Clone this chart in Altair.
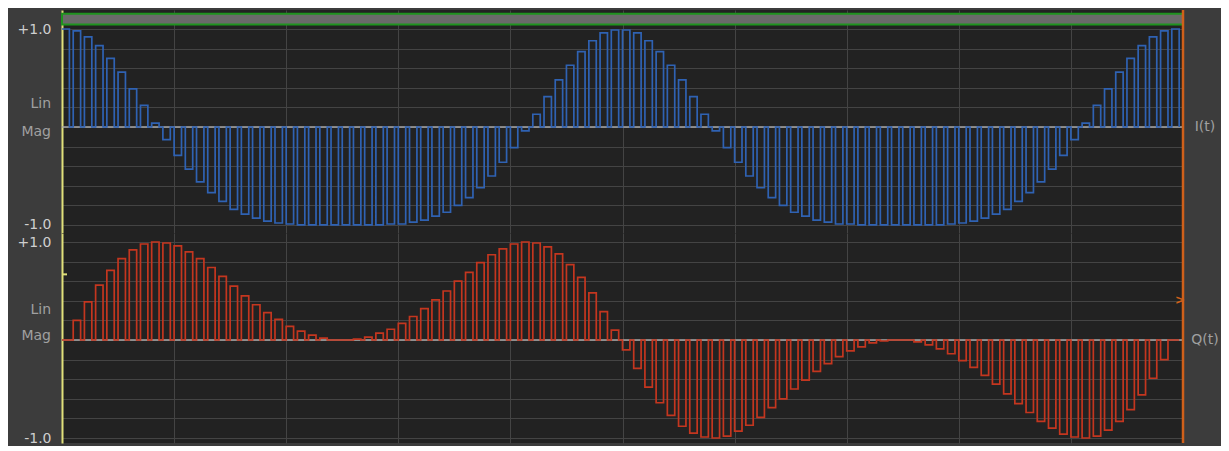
import altair as alt
import pandas as pd

# ---------------- data ----------------
SAMPLE_INDEX = list(range(100))

I_VALUES = [
    1.00, 0.98, 0.92, 0.83, 0.70, 0.56, 0.39, 0.22, 0.04, -0.13,
    -0.29, -0.43, -0.56, -0.67, -0.76, -0.84, -0.89, -0.93, -0.96, -0.98,
    -0.99, -1.00, -1.00, -1.00, -1.00, -1.00, -1.00, -1.00, -1.00, -0.99,
    -0.99, -0.97, -0.95, -0.91, -0.87, -0.80, -0.72, -0.62, -0.50, -0.36,
    -0.21, -0.04, 0.13, 0.31, 0.48, 0.63, 0.77, 0.88, 0.96, 0.99,
    0.99, 0.96, 0.88, 0.77, 0.63, 0.48, 0.31, 0.13, -0.04, -0.21,
    -0.36, -0.50, -0.62, -0.72, -0.80, -0.87, -0.91, -0.95, -0.97, -0.99,
    -0.99, -1.00, -1.00, -1.00, -1.00, -1.00, -1.00, -1.00, -1.00, -0.99,
    -0.98, -0.96, -0.93, -0.89, -0.84, -0.76, -0.67, -0.56, -0.43, -0.29,
    -0.13, 0.04, 0.22, 0.39, 0.56, 0.70, 0.83, 0.92, 0.98, 1.00,
]

Q_VALUES = [
    0.00, 0.20, 0.39, 0.56, 0.71, 0.83, 0.92, 0.98, 1.00, 0.99,
    0.96, 0.90, 0.83, 0.74, 0.65, 0.55, 0.45, 0.36, 0.28, 0.21,
    0.14, 0.09, 0.05, 0.02, 0.00, 0.00, 0.01, 0.03, 0.07, 0.11,
    0.17, 0.24, 0.32, 0.41, 0.50, 0.60, 0.69, 0.79, 0.87, 0.93,
    0.98, 1.00, 0.99, 0.95, 0.88, 0.77, 0.64, 0.48, 0.29, 0.10,
    -0.10, -0.29, -0.48, -0.64, -0.77, -0.88, -0.95, -0.99, -1.00, -0.98,
    -0.93, -0.87, -0.79, -0.69, -0.60, -0.50, -0.41, -0.32, -0.24, -0.17,
    -0.11, -0.07, -0.03, -0.01, 0.00, 0.00, -0.02, -0.05, -0.09, -0.14,
    -0.21, -0.28, -0.36, -0.45, -0.55, -0.65, -0.74, -0.83, -0.90, -0.96,
    -0.99, -1.00, -0.98, -0.92, -0.83, -0.71, -0.56, -0.39, -0.20, 0.00,
]

GRID_LEVELS = [-1.0, -0.8, -0.6, -0.4, -0.2, 0.0, 0.2, 0.4, 0.6, 0.8, 1.0]
TIME_GRID = [10, 20, 30, 40, 50, 60, 70, 80, 90]
TIME_RANGE = [0, 100]
SCALE_LABELS = ["Lin", "Mag"]
I_LABEL_LEVELS = [0.23, -0.05]
Q_LABEL_LEVELS = [0.31, 0.04]
SPAN_BAR = [1.045, 1.155]
LEFT_MARKER_LEVEL = [0.67]
RIGHT_MARKER_LEVEL = [0.41]

# ---------------- styling ----------------
W = 1121
LEFT = 54
RIGHT = 38
BG = "#3c3c3c"
PLOT_BG = "#222222"
GRID = "#444444"
FONT = "DejaVu Sans"
DUTY = 0.66

df = pd.DataFrame({"k": SAMPLE_INDEX, "I": I_VALUES, "Q": Q_VALUES})
one = pd.DataFrame({"a": [0]})


def xenc(field):
    return alt.X(
        f"{field}:Q",
        scale=alt.Scale(domain=TIME_RANGE, nice=False, zero=False),
        axis=alt.Axis(values=TIME_GRID, grid=True, gridColor=GRID, gridWidth=1,
                      labels=False, ticks=False, domain=False, title=None,
                      minExtent=0, maxExtent=0),
    )


def panel(sig, color, height, domain, label_levels, right_label, top_bar, markers):
    yscale = alt.Scale(domain=domain, nice=False, zero=False)
    yaxis = alt.Axis(
        values=GRID_LEVELS, grid=True, gridColor=GRID, gridWidth=1,
        labelExpr="datum.value == 1 ? '+1.0' : datum.value == -1 ? '-1.0' : ''",
        labelColor="#cfcfcf", labelFont=FONT, labelFontSize=14,
        labelPadding=11, labelOverlap=False, ticks=False, tickSize=0,
        domain=True, domainColor="#e0e07a", domainWidth=2, title=None,
    )

    def yenc(field):
        return alt.Y(f"{field}:Q", scale=yscale, axis=yaxis)

    layers = []
    # invisible side areas that reserve the left label column and right name column
    layers.append(alt.Chart(one).mark_rect(color=BG, opacity=0).encode(
        x=alt.value(-LEFT), x2=alt.value(0), y=alt.value(0), y2=alt.value(height)))
    layers.append(alt.Chart(one).mark_rect(color=BG, opacity=0).encode(
        x=alt.value(W + 2), x2=alt.value(W + RIGHT), y=alt.value(0), y2=alt.value(height)))

    # zero reference line
    layers.append(alt.Chart(pd.DataFrame({"zero": [0.0]})).mark_rule(
        color="#a8a8a8", strokeWidth=1.5).encode(y=yenc("zero")))

    # pulse trace
    trace = (
        alt.Chart(df)
        .transform_calculate(x0="datum.k", x1=f"datum.k + {DUTY}")
        .transform_fold(["x0", "x1"], as_=["edge", "xpos"])
        .transform_calculate(v=f"datum.edge == 'x0' ? datum.{sig} : 0")
        .mark_line(interpolate="step-after", color=color, strokeWidth=1.7)
        .encode(x=xenc("xpos"), y=yenc("v"))
    )
    layers.append(trace)

    if top_bar:
        bar_df = pd.DataFrame({"x0": [TIME_RANGE[0]], "x1": [TIME_RANGE[1]],
                               "y0": [SPAN_BAR[0]], "y1": [SPAN_BAR[1]]})
        layers.append(alt.Chart(bar_df).mark_rect(
            fill="#6a6a6a", stroke="#1f931f", strokeWidth=2).encode(
            x=xenc("x0"), x2="x1", y=yenc("y0"), y2="y1"))

    # right edge (orange)
    layers.append(alt.Chart(pd.DataFrame({"edge": [TIME_RANGE[1]]})).mark_rule(
        color="#d0601a", strokeWidth=2.5).encode(x=xenc("edge")))

    # Lin / Mag labels
    lab = pd.DataFrame({"label": SCALE_LABELS, "lvl": label_levels})
    layers.append(alt.Chart(lab).mark_text(
        align="right", baseline="middle", color="#a0a0a0", font=FONT, fontSize=14).encode(
        x=alt.value(-11), y=yenc("lvl"), text="label:N"))

    # right-side trace name
    rl = pd.DataFrame({"label": [right_label], "lvl": [0.0]})
    layers.append(alt.Chart(rl).mark_text(
        align="center", baseline="middle", color="#a0a0a0", font=FONT, fontSize=14).encode(
        x=alt.value(W + 22), y=yenc("lvl"), text="label:N"))

    if markers:
        layers.append(alt.Chart(pd.DataFrame({"lvl": LEFT_MARKER_LEVEL})).mark_rule(
            color="#e0e07a", strokeWidth=2).encode(
            x=alt.value(0), x2=alt.value(5), y=yenc("lvl")))
        layers.append(alt.Chart(pd.DataFrame({"lvl": RIGHT_MARKER_LEVEL, "t": [">"]})).mark_text(
            color="#d0601a", font=FONT, fontSize=12, fontWeight="bold",
            align="center", baseline="middle").encode(
            x=alt.value(W - 3), y=yenc("lvl"), text="t:N"))

    return alt.layer(*layers).properties(width=W, height=height)


top = panel("I", "#2f62b3", 223, [-1.082, 1.194], I_LABEL_LEVELS, "I(t)", True, False)
bottom = panel("Q", "#c4361f", 210, [-1.051, 1.092], Q_LABEL_LEVELS, "Q(t)", False, True)

chart = (
    alt.vconcat(top, bottom, spacing=0, bounds="flush")
    .resolve_scale(y="independent")
    .properties(padding=0, background=BG)
    .configure_view(stroke=None, fill=PLOT_BG)
)

chart.save("out.html", embed_options={"renderer": "svg", "actions": False})
